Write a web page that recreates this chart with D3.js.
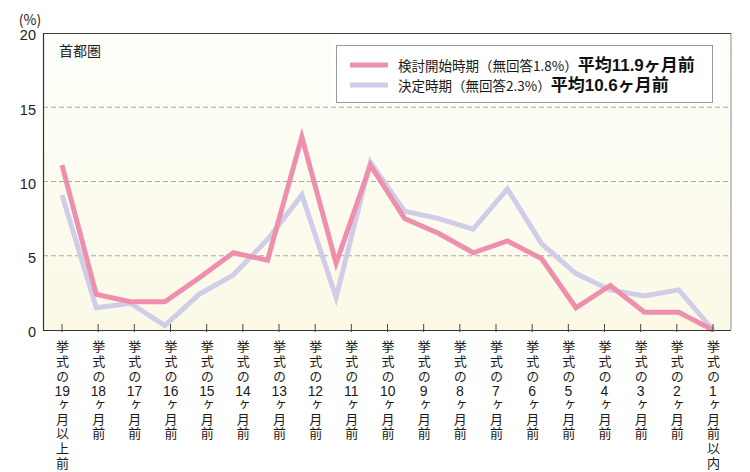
<!DOCTYPE html>
<html><head><meta charset="utf-8">
<script src="https://cdn.jsdelivr.net/npm/d3@7/dist/d3.min.js"></script>
<style>
html,body{margin:0;padding:0;background:#fff;}
#wrap{position:relative;width:750px;height:472px;overflow:hidden;}
svg{display:block;position:absolute;left:0;top:0;}
.xlab{position:absolute;writing-mode:vertical-rl;text-orientation:mixed;font-family:'Noto Sans CJK JP','Noto Sans',sans-serif;font-size:13px;line-height:16px;width:16px;letter-spacing:1.6px;color:#1a1a1a;white-space:nowrap;}
.xlab .tcy{text-combine-upright:all;font-family:'Liberation Sans',Arial,sans-serif;font-size:14px;letter-spacing:0;}
</style>
</head><body>
<div id="wrap"></div>
<script>
const categories = ["19ヶ月以上前","18ヶ月前","17ヶ月前","16ヶ月前","15ヶ月前","14ヶ月前","13ヶ月前","12ヶ月前","11ヶ月前","10ヶ月前","9ヶ月前","8ヶ月前","7ヶ月前","6ヶ月前","5ヶ月前","4ヶ月前","3ヶ月前","2ヶ月前","1ヶ月前以内"];
const kentouValues = [11.1, 2.4, 1.9, 1.9, 3.5, 5.2, 4.7, 13.0, 4.5, 11.1, 7.5, 6.5, 5.2, 6.0, 4.8, 1.5, 3.0, 1.2, 1.2, 0.0];
const ketteiValues = [9.1, 1.5, 1.8, 0.3, 2.4, 3.7, 6.1, 9.1, 2.2, 11.3, 8.0, 7.5, 6.8, 9.5, 5.8, 3.8, 2.7, 2.3, 2.7, 0.0];
const yTicks = [0, 5, 10, 15, 20];
const seriesNames = ["検討開始時期（無回答1.8%）", "決定時期（無回答2.3%）"];
const seriesAverages = ["平均11.9ヶ月前", "平均10.6ヶ月前"];
const regionLabel = "首都圏";
const unitLabel = "(%)";

const W = 750, H = 472;
const plot = {left: 43, right: 731, top: 33, bottom: 330};
const colors = ["#ef8fae", "#d0cde8"];
const cjk = "'Noto Sans CJK JP', 'Noto Sans', sans-serif";
const latin = "'Liberation Sans', Arial, sans-serif";
const latinFirst = "'Liberation Sans', 'Noto Sans CJK JP', sans-serif";

const wrap = d3.select("#wrap");
const svg = wrap.append("svg").attr("width", W).attr("height", H);
const defs = svg.append("defs");
const grad = defs.append("linearGradient").attr("id", "bg").attr("x1", 0).attr("y1", 0).attr("x2", 0).attr("y2", 1);
grad.append("stop").attr("offset", "0%").attr("stop-color", "#fefefa");
grad.append("stop").attr("offset", "100%").attr("stop-color", "#fbf9e6");

const x = d3.scalePoint().domain(categories).range([62, 713]);
const xLine = d3.scalePoint().domain(d3.range(kentouValues.length)).range([62, 713]);
const y = d3.scaleLinear().domain([0, 20]).range([plot.bottom, plot.top]);

svg.append("rect").attr("x", plot.left).attr("y", plot.top)
  .attr("width", plot.right - plot.left).attr("height", plot.bottom - plot.top)
  .attr("fill", "url(#bg)");

// gridlines
svg.append("g").selectAll("line").data(yTicks.filter(t => t > 0 && t < 20)).join("line")
  .attr("x1", plot.left).attr("x2", plot.right)
  .attr("y1", d => y(d)).attr("y2", d => y(d))
  .attr("stroke", "#a8a8a8").attr("stroke-width", 1).attr("stroke-dasharray", "5,3");

// borders
svg.append("line").attr("x1", plot.right).attr("x2", plot.right).attr("y1", plot.top).attr("y2", plot.bottom)
  .attr("stroke", "#8a8a8a").attr("stroke-width", 1);
svg.append("line").attr("x1", plot.left).attr("x2", plot.right).attr("y1", plot.top + 0.5).attr("y2", plot.top + 0.5)
  .attr("stroke", "#444").attr("stroke-width", 1.2);

// legend
const lg = svg.append("g");
lg.append("rect").attr("x", 331).attr("y", 35).attr("width", 390).attr("height", 70).attr("fill", "#ffffff");
lg.append("rect").attr("x", 336.5).attr("y", 45.5).attr("width", 376).attr("height", 57)
  .attr("fill", "#ffffff").attr("stroke", "#999").attr("stroke-width", 1);
const legendRows = [65, 85];
seriesNames.forEach((name, i) => {
  lg.append("line").attr("x1", 350).attr("x2", 388).attr("y1", legendRows[i]).attr("y2", legendRows[i])
    .attr("stroke", colors[i]).attr("stroke-width", 5);
  const t = lg.append("text").attr("x", 398).attr("y", legendRows[i] + 5.5)
    .attr("font-family", latinFirst).attr("fill", "#1a1a1a");
  t.append("tspan").attr("font-size", 13.5).attr("font-family", cjk).text(name);
  t.append("tspan").attr("font-size", 17).attr("font-weight", "bold").attr("fill", "#111")
    .attr("font-family", latinFirst).text(seriesAverages[i]);
});

// lines
const line = d3.line().x((d, i) => xLine(i)).y(d => y(d));
svg.append("path").datum(ketteiValues).attr("d", line).attr("fill", "none")
  .attr("stroke", colors[1]).attr("stroke-width", 5).attr("stroke-linejoin", "miter");
svg.append("path").datum(kentouValues).attr("d", line).attr("fill", "none")
  .attr("stroke", colors[0]).attr("stroke-width", 5).attr("stroke-linejoin", "miter");

// axes
svg.append("line").attr("x1", plot.left + 0.5).attr("x2", plot.left + 0.5).attr("y1", plot.top).attr("y2", plot.bottom)
  .attr("stroke", "#333").attr("stroke-width", 1.2);
svg.append("line").attr("x1", plot.left).attr("x2", plot.right).attr("y1", plot.bottom + 0.5).attr("y2", plot.bottom + 0.5)
  .attr("stroke", "#333").attr("stroke-width", 1.2);
svg.append("g").selectAll("line").data(categories).join("line")
  .attr("x1", d => x(d)).attr("x2", d => x(d))
  .attr("y1", plot.bottom - 6).attr("y2", plot.bottom + 2)
  .attr("stroke", "#444").attr("stroke-width", 1);

// y labels
svg.append("g").selectAll("text").data(yTicks).join("text")
  .attr("x", 36).attr("y", d => y(d) + 3.5)
  .attr("text-anchor", "end").attr("dominant-baseline", "middle")
  .attr("font-family", latin).attr("font-size", 14.5).attr("fill", "#222")
  .text(d => d);
svg.append("text").attr("x", 30).attr("y", 21).attr("text-anchor", "middle").attr("dominant-baseline", "middle")
  .attr("font-family", cjk).attr("font-size", 14).attr("fill", "#222").text(unitLabel);
svg.append("text").attr("x", 59).attr("y", 52).attr("dominant-baseline", "middle")
  .attr("font-family", cjk).attr("font-size", 14).attr("fill", "#222").text(regionLabel);

// x labels: vertical writing, numbers set horizontally (tate-chu-yoko)
wrap.selectAll("div.xlab").data(categories).join("div")
  .attr("class", "xlab")
  .style("left", d => (x(d) - 8) + "px")
  .style("top", "340px")
  .each(function(c) {
    const el = d3.select(this);
    const m = c.match(/^(\d+)(.*)$/);
    el.append("span").text("挙式の");
    el.append("span").attr("class", "tcy").text(m[1]);
    el.append("span").text(m[2]);
  });
</script>
</body></html>
